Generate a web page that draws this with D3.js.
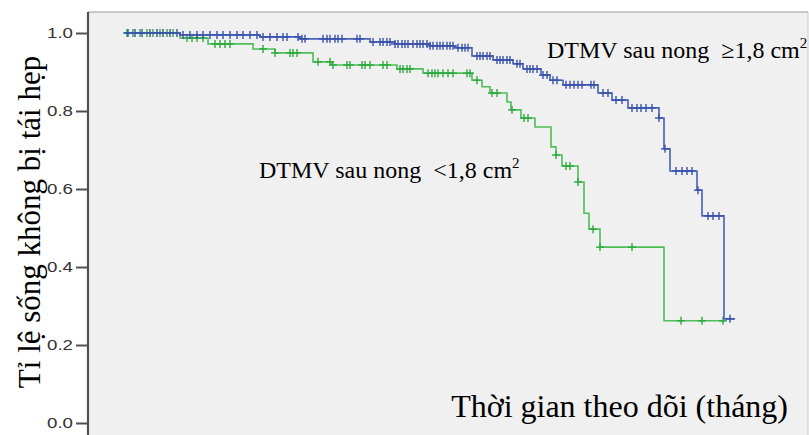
<!DOCTYPE html>
<html><head><meta charset="utf-8">
<script src="https://cdn.jsdelivr.net/npm/d3@7"></script>
<style>html,body{margin:0;padding:0;background:#fff;}svg{display:block;}</style>
</head><body>
<svg id="chart" width="809" height="435"></svg>
<script>
// Y axis ticks
const yTicks = [0, 0.2, 0.4, 0.6, 0.8, 1.0];
// time axis extent (months)
const xExtent = [-9.25, 170.75];

// Group >= 1.8 cm2 (blue): step times and survival
const blueTimes = [0, 13.75, 33.75, 43.75, 61.25, 67.5, 76.25, 82.5, 86.75, 92, 97, 99.5, 104, 106.25, 109.5, 118.25, 121.75, 125.75, 133.5, 134.75, 136.25, 143, 144.25, 149.75];
const blueSurv  = [1.0, 0.995, 0.990, 0.985, 0.977, 0.972, 0.967, 0.962, 0.941, 0.931, 0.921, 0.908, 0.892, 0.879, 0.867, 0.846, 0.828, 0.808, 0.782, 0.703, 0.646, 0.597, 0.531, 0.267];
const blueEnd = 152.5;
const blueCensor = [0.75, 2.5, 4.25, 6.25, 8, 9.5, 11.25, 13, 14.5, 16.25, 18, 19.5, 21.25, 23, 24.5, 26.25, 28, 29.5, 31.25, 33, 34.5, 36.25, 38, 39.5, 40.5,
  43.25, 44.25, 45, 49.5, 50.5, 51.25, 52.5, 53.25, 54.25, 58, 58.75,
  62, 63.75, 64.5, 65.5, 66.25, 67.5, 68.25, 69.25, 70, 70.75, 72, 73, 73.75, 74.5, 75.5, 76.25, 77, 78, 78.75, 79.5, 80.5, 81.25, 82, 83.25, 84.25, 85, 85.75,
  88, 88.75, 89.5, 90.5, 91.25, 93, 93.75, 94.5, 95.5, 96.25, 98, 98.75, 100.5, 101.25, 102, 103, 104.5, 105.5, 107, 108,
  110.25, 111.25, 112.25, 113.25, 114.25, 116.5, 117.25, 119.5, 120.75, 122.75, 124.25, 126.75, 128, 129, 130.25, 131.75,
  133.5, 135, 137.75, 139.25, 140.5, 141.75, 143.25, 145.75, 147, 148.5, 151.25];

// Group < 1.8 cm2 (green)
const greenTimes = [0, 13.75, 20.75, 32, 37.5, 47, 51.75, 68, 74.5, 86.75, 89.25, 91.25, 95.5, 96.5, 99, 102.5, 106.5, 107.75, 109.25, 113.25, 114.75, 116, 118.75, 134.75];
const greenSurv  = [1.0, 0.987, 0.972, 0.959, 0.949, 0.926, 0.918, 0.908, 0.897, 0.879, 0.862, 0.846, 0.823, 0.803, 0.782, 0.759, 0.708, 0.687, 0.659, 0.618, 0.538, 0.497, 0.451, 0.262];
const greenEnd = 150;
const greenCensor = [0.5, 2, 3.75, 5.5, 7, 8.75, 10.5, 12, 15.5, 16.75, 18, 19.5, 22.5, 23.75, 25, 26.25, 34.5, 37.5,
  41.25, 42, 43, 48.25, 51.25, 52, 55.5, 56.25, 59.25, 60, 61.25, 64.5, 65.5, 68.75, 69.5, 70.5, 71.25,
  75.75, 76.75, 77.5, 78.25, 79.5, 80.75, 82, 85.5, 86.25, 88, 91.75, 93, 96.75, 99.75, 100.75,
  107.75, 110.25, 111.25, 113.25, 117, 118.75, 126.75, 139, 144.25, 149.5];

const yLabel = "Tỉ lệ sống không bị tái hẹp";
const xLabel = "Thời gian theo dõi (tháng)";
const labelHigh = ["DTMV sau nong  ≥1,8 cm", "2"];
const labelLow  = ["DTMV sau nong  <1,8 cm", "2"];

const svg = d3.select("#chart");
const plot = {left: 88, top: 12, right: 808, bottom: 435};

const x = d3.scaleLinear().domain(xExtent).range([plot.left, plot.right]);
const y = d3.scaleLinear().domain([0, 1]).range([423, 33]);

svg.append("rect").attr("x", plot.left).attr("y", plot.top)
  .attr("width", plot.right - plot.left).attr("height", plot.bottom - plot.top)
  .attr("fill", "#f0f0f0");
// top & right frame
svg.append("line").attr("x1", plot.left).attr("x2", plot.right).attr("y1", plot.top).attr("y2", plot.top)
  .attr("stroke", "#9a9a9a").attr("stroke-width", 1.2);
svg.append("line").attr("x1", plot.right).attr("x2", plot.right).attr("y1", plot.top).attr("y2", plot.bottom)
  .attr("stroke", "#c8c8c8").attr("stroke-width", 1);

function drawSeries(times, surv, endT, censor, color, markColor) {
  const pts = [];
  for (let i = 0; i < times.length; i++) {
    if (i > 0) pts.push([times[i], surv[i - 1]]);
    pts.push([times[i], surv[i]]);
  }
  pts.push([endT, surv[surv.length - 1]]);
  const line = d3.line().x(d => x(d[0])).y(d => y(d[1]));
  svg.append("path").datum(pts).attr("d", line).attr("fill", "none")
    .attr("stroke", color).attr("stroke-width", 1.6);
  const survAt = t => {
    let s = surv[0];
    for (let i = 0; i < times.length; i++) if (times[i] <= t) s = surv[i];
    return s;
  };
  const g = svg.append("g").attr("stroke", markColor).attr("stroke-width", 1.4);
  censor.forEach(t => {
    const cx = x(t), cy = y(survAt(t));
    g.append("line").attr("x1", cx).attr("x2", cx).attr("y1", cy - 4).attr("y2", cy + 4);
    g.append("line").attr("x1", cx - 4).attr("x2", cx + 4).attr("y1", cy).attr("y2", cy);
  });
}

drawSeries(greenTimes, greenSurv, greenEnd, greenCensor, "#4cbf58", "#2fa83f");
drawSeries(blueTimes, blueSurv, blueEnd, blueCensor, "#4660b8", "#3a52ad");

// Y axis
const yAxis = d3.axisLeft(y).tickValues(yTicks).tickFormat(d3.format(".1f")).tickSize(12).tickPadding(3);
const ga = svg.append("g").attr("transform", `translate(${plot.left},0)`).call(yAxis);
ga.select(".domain").attr("stroke", "#505050").attr("stroke-width", 2.2).attr("d", `M0,${plot.top}V${plot.bottom}`);
ga.selectAll(".tick line").attr("stroke", "#505050").attr("stroke-width", 2);
ga.selectAll(".tick text").attr("fill", "#333").style("font-family", "'Liberation Sans', Arial, sans-serif")
  .style("font-size", "14px").attr("textLength", 26).attr("lengthAdjust", "spacingAndGlyphs");

// Y label
svg.append("text").attr("transform", "translate(40,222) rotate(-90)")
  .attr("text-anchor", "middle").style("font-family", "'Liberation Serif', 'Times New Roman', serif")
  .style("font-size", "31px").attr("fill", "#000").text(yLabel);

// X label
svg.append("text").attr("x", 788).attr("y", 417).attr("text-anchor", "end")
  .style("font-family", "'Liberation Serif', 'Times New Roman', serif")
  .style("font-size", "32px").attr("fill", "#000").text(xLabel);

function groupLabel(xp, yp, parts) {
  const t = svg.append("text").attr("x", xp).attr("y", yp)
    .style("font-family", "'Liberation Serif', 'Times New Roman', serif")
    .style("font-size", "24px").style("white-space", "pre").attr("fill", "#000");
  t.append("tspan").text(parts[0]);
  t.append("tspan").attr("dy", -10).style("font-size", "15px").text(parts[1]);
}
groupLabel(547, 58, labelHigh);
groupLabel(259, 178, labelLow);
</script>
</body></html>
